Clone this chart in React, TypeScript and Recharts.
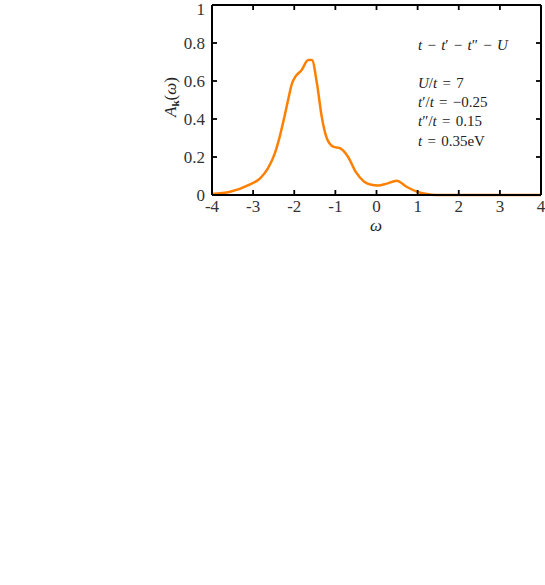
import { LineChart, Line, XAxis, YAxis, Customized } from 'recharts'

// omega grid and spectral weight A_k(omega)
const omega = [-4, -3.56, -3.1, -2.83, -2.64, -2.47, -2.35, -2.22, -2.15, -2.05, -1.98, -1.82, -1.66, -1.57, -1.45, -1.33, -1.21, -1.05, -0.88, -0.69, -0.5, -0.3, -0.15, 0.04, 0.25, 0.49, 0.74, 0.98, 1.22, 1.45, 2, 3, 4]
const akw = [0.005, 0.017, 0.053, 0.088, 0.14, 0.22, 0.31, 0.43, 0.5, 0.59, 0.62, 0.658, 0.71, 0.71, 0.59, 0.41, 0.3, 0.254, 0.245, 0.2, 0.12, 0.07, 0.055, 0.05, 0.06, 0.075, 0.042, 0.018, 0.005, 0, 0, 0, 0]

const xTicks = [-4, -3, -2, -1, 0, 1, 2, 3, 4]
const yTicks = [0, 0.2, 0.4, 0.6, 0.8, 1]

const data = omega.map((w, i) => ({ omega: w, a: akw[i] }))

const font = '"Liberation Serif", "DejaVu Serif", serif'
const labelColor = '#333'

const XTick = (props: any) => (
  <text x={props.x} y={props.y} dy={15} textAnchor="middle" fontFamily={font} fontSize={17} fill={labelColor}>
    {String(props.payload.value)}
  </text>
)

const YTick = (props: any) => (
  <text x={props.x} y={props.y} dy={6} textAnchor="end" fontFamily={font} fontSize={17} fill={labelColor}>
    {String(props.payload.value)}
  </text>
)

function Annotations() {
  const x = 418
  return (
    <g fontFamily={font} fontSize={15} fill="#222" wordSpacing={1.5}>
      <text x={x} y={50}>
        <tspan fontStyle="italic">t</tspan> − <tspan fontStyle="italic">t</tspan>′ − <tspan fontStyle="italic">t</tspan>″ − <tspan fontStyle="italic">U</tspan>
      </text>
      <text x={x} y={88}>
        <tspan fontStyle="italic">U</tspan>/<tspan fontStyle="italic">t</tspan> = 7
      </text>
      <text x={x} y={107}>
        <tspan fontStyle="italic">t</tspan>′/<tspan fontStyle="italic">t</tspan> = −0.25
      </text>
      <text x={x} y={126}>
        <tspan fontStyle="italic">t</tspan>″/<tspan fontStyle="italic">t</tspan> = 0.15
      </text>
      <text x={x} y={146}>
        <tspan fontStyle="italic">t</tspan> = 0.35eV
      </text>
      <text x={376} y={231} textAnchor="middle" fontSize={17} fontStyle="italic">ω</text>
      <text x={0} y={0} transform="translate(176,97) rotate(-90)" textAnchor="middle" fontSize={17}>
        <tspan fontStyle="italic">A</tspan><tspan fontSize={11} dy={3} fontWeight="bold">k</tspan><tspan dy={-3}>(</tspan><tspan fontStyle="italic">ω</tspan>)
      </text>
    </g>
  )
}

export default function App() {
  const axisStroke = { stroke: '#000', strokeWidth: 2 }
  const tickStroke = { stroke: '#000', strokeWidth: 1.8 }
  return (
    <div style={{ position: 'absolute', left: 0, top: 0 }}>
      <LineChart width={545} height={240} data={data} margin={{ top: 4, right: 3, left: 152, bottom: 0 }}>
        <XAxis
          xAxisId="b"
          type="number"
          dataKey="omega"
          domain={[-4, 4]}
          ticks={xTicks}
          tickSize={-5}
          tickMargin={7}
          height={45}
          axisLine={axisStroke}
          tickLine={tickStroke}
          tick={XTick}
        />
        <XAxis
          xAxisId="t"
          orientation="top"
          type="number"
          dataKey="omega"
          domain={[-4, 4]}
          ticks={xTicks}
          tickSize={-5}
          height={1}
          axisLine={axisStroke}
          tickLine={tickStroke}
          tickFormatter={() => ''}
        />
        <YAxis
          yAxisId="l"
          type="number"
          domain={[0, 1]}
          ticks={yTicks}
          tickSize={-5}
          tickMargin={12}
          width={60}
          axisLine={axisStroke}
          tickLine={tickStroke}
          tick={YTick}
        />
        <YAxis
          yAxisId="r"
          orientation="right"
          type="number"
          domain={[0, 1]}
          ticks={yTicks}
          tickSize={-5}
          width={1}
          axisLine={axisStroke}
          tickLine={tickStroke}
          tickFormatter={() => ''}
        />
        <Line
          xAxisId="b"
          yAxisId="l"
          type="monotone"
          dataKey="a"
          stroke="#ff8000"
          strokeWidth={2.5}
          dot={false}
          isAnimationActive={false}
        />
        <Line
          xAxisId="t"
          yAxisId="r"
          dataKey="a"
          stroke="none"
          dot={false}
          activeDot={false}
          legendType="none"
          isAnimationActive={false}
        />
        <Customized component={Annotations} />
      </LineChart>
    </div>
  )
}
